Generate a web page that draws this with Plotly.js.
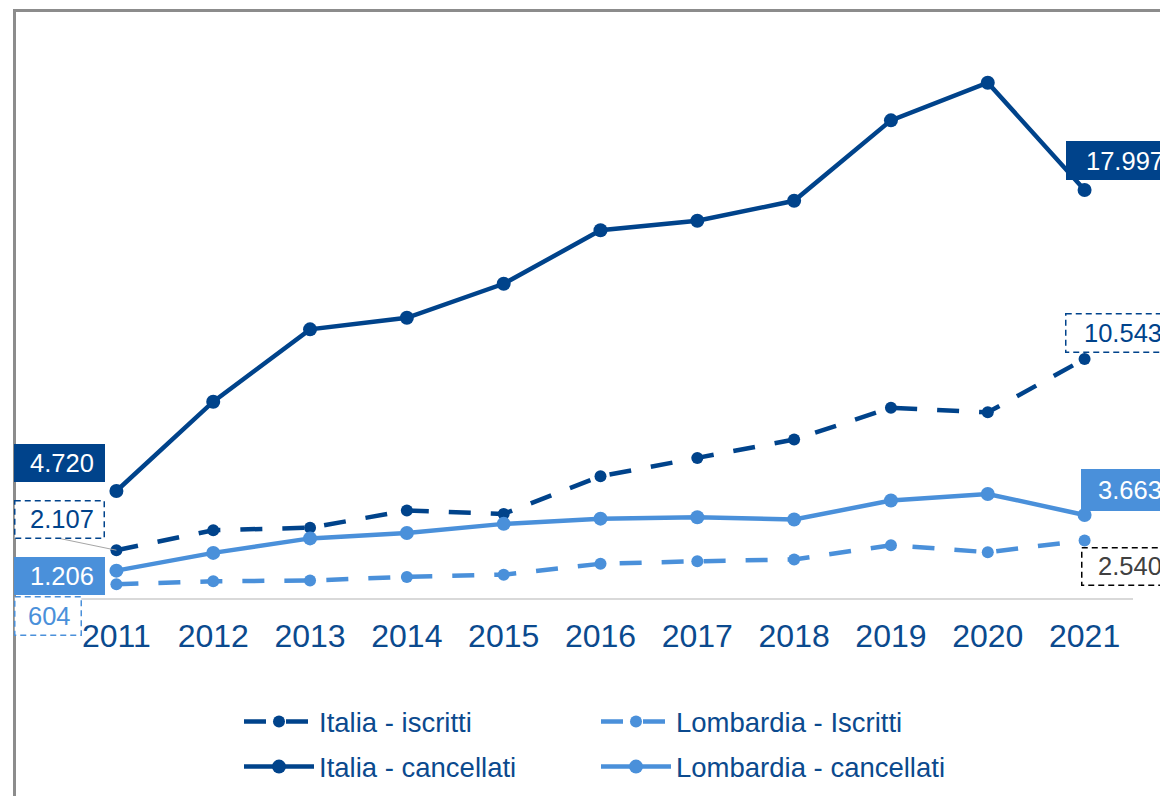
<!DOCTYPE html>
<html>
<head>
<meta charset="utf-8">
<script src="https://cdn.plot.ly/plotly-3.0.1.min.js"></script>
<style>
html,body{margin:0;padding:0;background:#fff;width:1160px;height:796px;overflow:hidden}
#frame{position:absolute;left:13px;top:9px;width:1300px;height:1000px;border-left:3px solid #8c8c8c;border-top:3px solid #8c8c8c;box-sizing:border-box}
#chart{position:absolute;left:0;top:0;width:1160px;height:796px}
</style>
</head>
<body>
<div id="frame"></div>
<div id="chart"></div>
<script>
// ---- data ----
const years = ['2011','2012','2013','2014','2015','2016','2017','2018','2019','2020','2021'];
const italiaIscritti      = [2107, 2990, 3100, 3860, 3710, 5370, 6180, 6990, 8390, 8190, 10543];
const lombardiaIscritti   = [604, 740, 770, 930, 1030, 1510, 1620, 1700, 2330, 2020, 2540];
const italiaCancellati    = [4720, 8660, 11850, 12360, 13860, 16220, 16640, 17520, 21070, 22730, 17997];
const lombardiaCancellati = [1206, 1990, 2630, 2870, 3270, 3500, 3560, 3460, 4300, 4590, 3663];
const seriesNames = ['Italia - iscritti', 'Lombardia - Iscritti', 'Italia - cancellati', 'Lombardia - cancellati'];

// ---- styles ----
const DARK = '#00438B', LIGHT = '#4A90DA', TEXTBLUE = '#0B4A8E';
const FONT = 'Arial, "Liberation Sans", sans-serif';
const DASH = '22px,20px';

function fmt(v){ return String(v).replace(/\B(?=(\d{3})+(?!\d))/g, '.'); }

const traces = [
  {name: seriesNames[0], y: italiaIscritti, color: DARK, dash: DASH, size: 12, legend: 'legend'},
  {name: seriesNames[1], y: lombardiaIscritti, color: LIGHT, dash: DASH, size: 12, legend: 'legend2'},
  {name: seriesNames[2], y: italiaCancellati, color: DARK, dash: 'solid', size: 14, legend: 'legend3'},
  {name: seriesNames[3], y: lombardiaCancellati, color: LIGHT, dash: 'solid', size: 14, legend: 'legend4'}
].map(s => ({
  type: 'scatter', mode: 'lines+markers', x: years, y: s.y, name: s.name,
  legend: s.legend,
  line: {color: s.color, width: 4.5, dash: s.dash},
  marker: {color: s.color, size: s.size, symbol: 'circle'},
  cliponaxis: false, hoverinfo: 'skip'
}));

// label specs: box offsets [x0,x1,y0,y1] in px relative to the point (y down), text offset
const labelSpecs = [
  {series: italiaCancellati, idx: 0, box: [-102,-11,-46.7,-8.4], fill: DARK, border: null, tc: '#ffffff', side: 'right', tx: -21},
  {series: italiaIscritti, idx: 0, box: [-102,-11,-50.7,-11.7], fill: '#ffffff', border: DARK, tc: DARK, side: 'right', tx: -21, leader: [-58, -12]},
  {series: lombardiaCancellati, idx: 0, box: [-102,-11,-14,23.7], fill: LIGHT, border: null, tc: '#ffffff', side: 'right', tx: -21},
  {series: lombardiaIscritti, idx: 0, box: [-102,-34,12,51.7], fill: '#ffffff', border: LIGHT, tc: LIGHT, side: 'right', tx: -44},
  {series: italiaCancellati, idx: 10, box: [-19,110,-49,-10], fill: DARK, border: null, tc: '#ffffff', side: 'left', tx: 0},
  {series: italiaIscritti, idx: 10, box: [-19.3,110,-45.7,-5.4], fill: '#ffffff', border: DARK, tc: DARK, side: 'left', tx: -2},
  {series: lombardiaCancellati, idx: 10, box: [-3.3,110,-46.4,-4], fill: LIGHT, border: null, tc: '#ffffff', side: 'left', tx: 12},
  {series: lombardiaIscritti, idx: 10, box: [-4,110,6.3,45.7], fill: '#ffffff', border: '#000000', tc: '#404040', side: 'left', tx: 12}
];

const annotations = [];
const dashedIdx = [];
labelSpecs.forEach(sp => {
  const xv = sp.idx;            // category serial number on the category axis
  const yv = sp.series[sp.idx];
  const [x0,x1,y0,y1] = sp.box;
  if (sp.leader) {
    annotations.push({x: xv, y: yv, xref: 'x', yref: 'y', text: '', showarrow: true,
      ax: sp.leader[0], ay: sp.leader[1], arrowhead: 0, arrowwidth: 1, arrowcolor: '#A6A6A6', standoff: 0});
  }
  const bw = sp.border ? 1.5 : 0;
  if (sp.border) dashedIdx.push(annotations.length);
  annotations.push({x: xv, y: yv, xref: 'x', yref: 'y', text: ' ', showarrow: false,
    xanchor: 'left', yanchor: 'top', xshift: x0, yshift: -y0,
    width: (x1 - x0) - 2*bw, height: (y1 - y0) - 2*bw, borderpad: 0,
    bgcolor: sp.fill, bordercolor: sp.border || 'rgba(0,0,0,0)', borderwidth: bw,
    font: {size: 1}});
  annotations.push({x: xv, y: yv, xref: 'x', yref: 'y', text: fmt(yv), showarrow: false,
    xanchor: sp.side, yanchor: 'middle', xshift: sp.tx, yshift: -(y0 + y1)/2,
    borderpad: 0, font: {family: FONT, size: 25.5, color: sp.tc}});
});

function legendAt(xPix, yPix){
  return {xref: 'container', yref: 'container', x: xPix/1160, y: 1 - yPix/796,
    xanchor: 'left', yanchor: 'middle', orientation: 'h', itemwidth: 70,
    bgcolor: 'rgba(0,0,0,0)', font: {family: FONT, size: 27.5, color: TEXTBLUE}};
}

const layout = {
  width: 1160, height: 796,
  margin: {l: 68, r: 27, t: 40, b: 198},
  paper_bgcolor: 'rgba(0,0,0,0)', plot_bgcolor: 'rgba(0,0,0,0)',
  font: {family: FONT},
  showlegend: true,
  legend: legendAt(239, 721.7),
  legend2: legendAt(596, 721.7),
  legend3: legendAt(239, 766.7),
  legend4: legendAt(596, 766.7),
  xaxis: {type: 'category', range: [-0.5, 10.5], autorange: false,
    showgrid: false, zeroline: false, showline: true,
    linecolor: '#D9D9D9', linewidth: 2, ticks: '', ticklabelstandoff: 9,
    tickfont: {family: FONT, size: 32, color: TEXTBLUE}},
  yaxis: {range: [0, 24614], autorange: false, showgrid: false, zeroline: false, showline: false,
    showticklabels: false, ticks: ''},
  annotations: annotations
};

Plotly.newPlot('chart', traces, layout, {staticPlot: true, displayModeBar: false}).then(gd => {
  gd.querySelectorAll('g.annotation').forEach(g => {
    const i = +g.getAttribute('data-index');
    if (dashedIdx.indexOf(i) >= 0) {
      const r = g.querySelector('rect.bg');
      if (r) r.style.strokeDasharray = '6,4';
    }
  });
});
</script>
</body>
</html>
